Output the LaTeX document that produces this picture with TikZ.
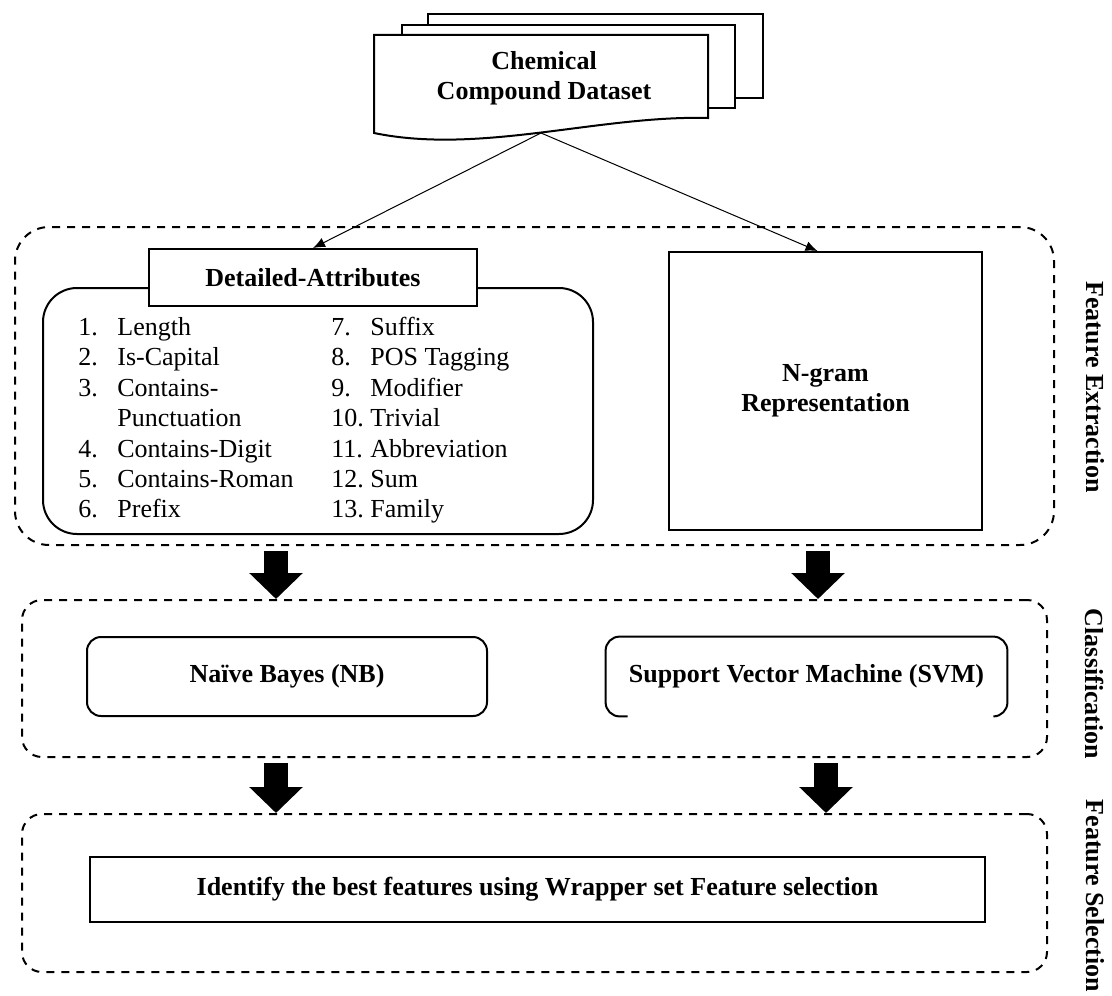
\documentclass[tikz,border=0pt]{standalone}
\usepackage{fontspec}
\setmainfont{Liberation Serif}
\usetikzlibrary{arrows.meta}

\begin{document}
\begin{tikzpicture}[x=0.5pt, y=-0.5pt,
    font=\fontsize{13pt}{15.2pt}\selectfont,
    page/.style={draw, line width=1pt, fill=white},
    box/.style={draw, line width=1pt, fill=white, align=center,
      font=\fontsize{13pt}{15.2pt}\selectfont\bfseries},
    stage/.style={draw, line width=1pt, dash pattern=on 4pt off 3.5pt, rounded corners=10pt},
    item/.style={anchor=base west, inner sep=0pt},
    side/.style={rotate=-90, font=\fontsize{13pt}{15.2pt}\selectfont\bfseries},
    link/.style={-{Latex[length=6pt,width=5pt]}, line width=0.5pt},
    fat/.style={line width=12pt, -{Triangle[length=13pt,width=26pt]}, shorten <=2.5pt}]
  \useasboundingbox (0,0) rectangle (1112,995);

  % the three stages
  \node[stage, rounded corners=17pt, minimum width=519.5pt, minimum height=159pt] (fe) at (534.5,386) {};
  \node[stage, minimum width=512.5pt, minimum height=78.5pt] (cls) at (534.5,678.5) {};
  \node[stage, minimum width=512.5pt, minimum height=79pt] (fs) at (534.5,893) {};
  \node[side] (felabel) at (1095,387) {Feature Extraction};
  \node[side] (clslabel) at (1095,684) {Classification};
  \node[side] (fslabel) at (1095,896) {Feature Selection};

  % dataset (stack of pages)
  \draw[page] (428,14) rectangle (763,98);
  \draw[page] (402,25) rectangle (735,108);
  \draw[page] (374,35) -- (708,35) -- (708,118) .. controls (600,115) and (480,155) .. (374,133) -- cycle;
  \node[font=\fontsize{13pt}{15.2pt}\selectfont\bfseries, align=center] (data) at (544,78) {Chemical\\Compound Dataset};
  \coordinate (dataout) at (541,133);

  % detailed attributes
  \node[draw, line width=1pt, rounded corners=17pt, minimum width=275pt, minimum height=123pt] (list) at (318,411) {};
  \node[box, minimum width=164pt, minimum height=28.5pt] (attr) at (313,277.5) {Detailed-Attributes};
  \foreach \n/\t [count=\r] in {1./Length, 2./Is-Capital, 3./Contains-, /Punctuation,
      4./Contains-Digit, 5./Contains-Roman, 6./Prefix} {
    \node[item] (na\r) at (78,305.1+30.4*\r) {\n};
    \node[item] (ta\r) at (117,305.1+30.4*\r) {\t};
  }
  \foreach \n/\t [count=\r] in {7./Suffix, 8./POS Tagging, 9./Modifier, 10./Trivial,
      11./Abbreviation, 12./Sum, 13./Family} {
    \node[item] (nb\r) at (331,305.1+30.4*\r) {\n};
    \node[item] (tb\r) at (370,305.1+30.4*\r) {\t};
  }

  % n-gram
  \node[box, minimum width=156.5pt, minimum height=139pt] (ngram) at (825.5,391) {N-gram\\Representation};

  \draw[link] (dataout) -- (attr.north);
  \draw[link] (dataout) -- ([xshift=-4pt]ngram.north);

  % classifiers
  \node[box, rounded corners=7pt, minimum width=200pt, minimum height=39.5pt] (nb) at (287,676.5) {Naïve Bayes (NB)};
  \node[font=\fontsize{13pt}{15.2pt}\selectfont\bfseries, minimum width=200.5pt, minimum height=39.5pt] (svm) at (806.5,676.5) {Support Vector Machine (SVM)};
  \draw[line width=1pt, rounded corners=7pt] ([xshift=11pt]svm.south west) -- (svm.south west) -- (svm.north west)
    -- (svm.north east) -- (svm.south east) -- ([xshift=-7pt]svm.south east);

  % feature selection
  \node[box, minimum width=447.5pt, minimum height=32.5pt] (best) at (537.5,889.5) {Identify the best features using Wrapper set Feature selection};

  % block arrows between stages
  \coordinate (lcol) at (276,0);
  \coordinate (rcol) at (818,0);
  \coordinate (rcolb) at (826,0);
  \draw[fat] (fe.south -| lcol) -- (cls.north -| lcol);
  \draw[fat] (fe.south -| rcol) -- (cls.north -| rcol);
  \draw[fat] (cls.south -| lcol) -- (fs.north -| lcol);
  \draw[fat] (cls.south -| rcolb) -- (fs.north -| rcolb);
\end{tikzpicture}
\end{document}
